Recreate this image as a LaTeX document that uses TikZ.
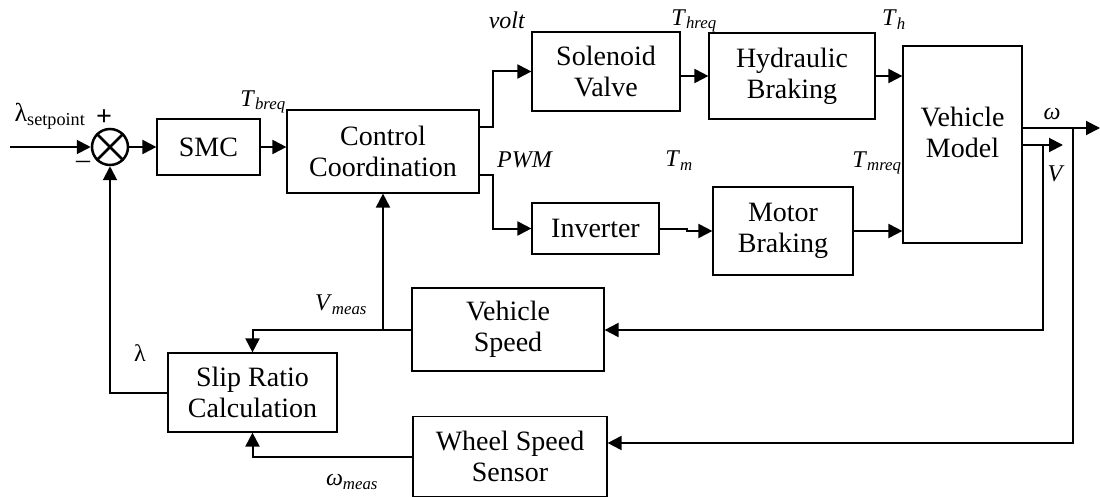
\documentclass[tikz,border=0pt]{standalone}
\usepackage{fontspec}
\setmainfont{Liberation Serif}
\usetikzlibrary{arrows.meta,calc}
\newcommand\isub[2]{\textit{#1}\textsubscript{\textit{#2}}}
\begin{document}
\begin{tikzpicture}[x=1pt,y=-1pt,
  box/.style={draw,line width=1.2pt,inner sep=0pt,align=center,font=\fontsize{28}{31}\selectfont},
  conn/.style={line width=2pt},
  arr/.style={conn,-{Triangle[length=14pt,width=14pt]}},
  lab/.style={font=\fontsize{24}{26}\selectfont,inner sep=0pt}]
\useasboundingbox (0,0) rectangle (1100,497);

% blocks
\node[circle,draw,line width=2.5pt,minimum size=36pt,inner sep=0pt] (sum) at (110,147) {};
\draw[line width=2.5pt] (sum.north west) -- (sum.south east) (sum.north east) -- (sum.south west);
\node[box,minimum width=103pt,minimum height=56pt] (smc) at (208.5,147) {SMC};
\node[box,minimum width=192pt,minimum height=83pt] (cc) at (383,151.5) {Control\\Coordination};
\node[box,minimum width=148pt,minimum height=79pt] (sv) at (606,71.5) {Solenoid\\Valve};
\node[box,minimum width=166pt,minimum height=86pt] (hb) at (792,76) {Hydraulic\\Braking};
\node[box,minimum width=119pt,minimum height=197pt,
  label={[font=\fontsize{28}{31}\selectfont,align=center,yshift=12pt]center:{Vehicle\\Model}}] (vm) at (962.5,144.5) {};
\node[box,minimum width=127pt,minimum height=51pt] (inv) at (595.5,228.5) {Inverter};
\node[box,minimum width=140pt,minimum height=88pt] (mb) at (783,231) {Motor\\Braking};
\node[box,minimum width=192pt,minimum height=83pt] (vs) at (508,329.5) {Vehicle\\Speed};
\node[box,minimum width=169pt,minimum height=79pt] (sr) at (252.5,392.5) {Slip Ratio\\Calculation};
\node[box,minimum width=194pt,minimum height=80pt] (ws) at (510,456.5) {Wheel Speed\\Sensor};

% helper coordinates
\coordinate (in) at (10,147);
\coordinate (bU) at (493,127);
\coordinate (bD) at (493,175);
\coordinate (j) at (687,228.5);
\coordinate (wo) at (1100,128);
\coordinate (wt) at (1073,128);
\coordinate (wb) at (1073,443);
\coordinate (vo) at (1063,145);
\coordinate (vt) at (1043,145);
\coordinate (vb) at (1043,330);

% connectors
\draw[arr] (in) -- (sum.west);
\draw[arr] (sum.east) -- (smc.west);
\draw[arr] (smc.east) -- (smc.east -| cc.west);
\draw[arr] (cc.east |- bU) -- (bU) |- (sv.west);
\draw[arr] (cc.east |- bD) -- (bD) |- (inv.west);
\draw[arr] (sv.east |- hb.west) -- (hb.west);
\draw[arr] (hb.east) -- (hb.east -| vm.west);
\draw[arr] (inv.east) -- (j) |- (mb.west);
\draw[arr] (mb.east) -- (mb.east -| vm.west);
\draw[arr] (vm.east |- wo) -- (wo);
\draw[arr] (vm.east |- vo) -- (vo);
\draw[arr] (wt) -- (wb) -- (wb -| ws.east);
\draw[arr] (vt) -- (vb) -- (vb -| vs.east);
\draw[arr] (vs.west) -| (sr.north);
\draw[arr] (cc.south |- vs.west) -- (cc.south);
\draw[arr] (ws.west) -| (sr.south);
\draw[arr] (sr.west) -| (sum.south);

% labels
\node[lab,font=\fontsize{26}{28}\selectfont] (lsp) at (50,116) {λ\textsubscript{setpoint}};
\node[lab,font=\fontsize{28}{30}\selectfont\bfseries] (lplus) at (104,118) {+};
\node[lab,font=\fontsize{28}{30}\selectfont] (lminus) at (83,165) {–};
\node[lab] (ltb) at (263,102) {\isub{T}{breq}};
\node[lab] (lvolt) at (507,20) {\textit{volt}};
\node[lab] (lthr) at (694,21) {\isub{T}{hreq}};
\node[lab] (lth) at (894,20) {\isub{T}{h}};
\node[lab] (lw) at (1052,114) {\textit{ω}};
\node[lab] (lv) at (1056,174) {\textit{V}};
\node[lab] (ltmr) at (877,163) {\isub{T}{mreq}};
\node[lab] (lpwm) at (525,160) {\textit{PWM}};
\node[lab] (ltm) at (679,161) {\isub{T}{m}};
\node[lab] (lvm) at (341,305) {\isub{V}{meas}};
\node[lab] (llam) at (140,353) {λ};
\node[lab] (lwm) at (352,482) {\isub{ω}{meas}};
\end{tikzpicture}
\end{document}
